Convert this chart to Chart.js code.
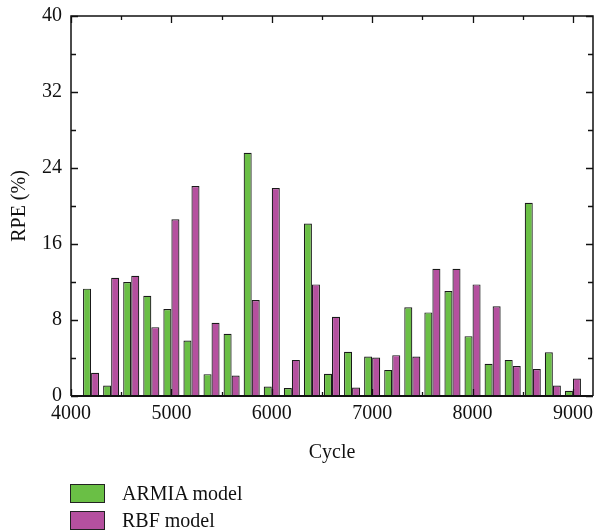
<!DOCTYPE html>
<html>
<head>
<meta charset="utf-8">
<script src="https://cdn.jsdelivr.net/npm/chart.js@4/dist/chart.umd.min.js"></script>
<style>
  html, body { margin: 0; padding: 0; background: #fff; }
  #wrap { position: relative; width: 594px; height: 531px; }
  #legend { position: absolute; left: 70px; top: 484px; font-family: "Liberation Serif", "DejaVu Serif", serif; font-size: 20px; color: #111; }
  .row { display: flex; align-items: center; height: 18px; margin-bottom: 9.5px; }
  .box { width: 33px; height: 17px; border: 1px solid #222; margin-right: 17px; }
</style>
</head>
<body>
<div id="wrap">
  <canvas id="c" width="594" height="531"></canvas>
  <div id="legend"></div>
</div>
<script>
const cycles = [4200, 4400, 4600, 4800, 5000, 5200, 5400, 5600, 5800, 6000, 6200, 6400, 6600, 6800, 7000, 7200, 7400, 7600, 7800, 8000, 8200, 8400, 8600, 8800, 9000];
const armiaRPE = [11.3, 1.1, 12.0, 10.55, 9.15, 5.85, 2.3, 6.55, 25.6, 1.0, 0.85, 18.15, 2.35, 4.65, 4.15, 2.75, 9.35, 8.8, 11.05, 6.3, 3.4, 3.8, 20.35, 4.6, 0.55];
const rbfRPE = [2.45, 12.45, 12.65, 7.25, 18.6, 22.1, 7.7, 2.15, 10.1, 21.9, 3.8, 11.75, 8.35, 0.9, 4.05, 4.3, 4.15, 13.4, 13.4, 11.75, 9.45, 3.15, 2.85, 1.1, 1.85];
const yTicks = [0, 8, 16, 24, 32, 40];
const xTicks = [4000, 5000, 6000, 7000, 8000, 9000];
const seriesNames = ['ARMIA model', 'RBF model'];
const seriesColors = ['#6abf45', '#b5509f'];

const FONT = '"Liberation Serif", "DejaVu Serif", serif';

const frameTicks = {
  id: 'frameTicks',
  afterDatasetsDraw(chart) {
    const ctx = chart.ctx;
    const a = chart.chartArea;
    const xs = chart.scales.x, ys = chart.scales.y;
    ctx.save();
    ctx.strokeStyle = '#111';
    ctx.lineWidth = 1.3;
    for (let v = 0; v <= 40; v += 4) {
      const p = Math.round(ys.getPixelForValue(v)) + 0.5;
      const len = (v % 8 === 0) ? 7 : 5;
      ctx.beginPath();
      ctx.moveTo(a.left, p); ctx.lineTo(a.left + len, p);
      ctx.moveTo(a.right, p); ctx.lineTo(a.right - len, p);
      ctx.stroke();
    }
    for (let v = 4000; v <= 9000; v += 500) {
      const p = Math.round(xs.getPixelForValue(v)) + 0.5;
      const len = (v % 1000 === 0) ? 7 : 4;
      ctx.beginPath();
      ctx.moveTo(p, a.top); ctx.lineTo(p, a.top + len);
      ctx.moveTo(p, a.bottom); ctx.lineTo(p, a.bottom - len);
      ctx.stroke();
    }
    ctx.lineWidth = 1.5;
    ctx.beginPath();
    ctx.moveTo(a.left, a.bottom); ctx.lineTo(a.left, a.top); ctx.lineTo(a.right, a.top); ctx.lineTo(a.right, a.bottom);
    ctx.stroke();
    ctx.lineWidth = 2.2;
    ctx.beginPath();
    ctx.moveTo(a.left, a.bottom); ctx.lineTo(a.right, a.bottom);
    ctx.stroke();
    ctx.restore();
  }
};

const chart = new Chart(document.getElementById('c'), {
  type: 'bar',
  data: {
    datasets: [
      { label: seriesNames[0], data: cycles.map((c, i) => ({ x: c, y: armiaRPE[i] })), backgroundColor: seriesColors[0], borderColor: '#1a1a1a', borderWidth: 1.2 },
      { label: seriesNames[1], data: cycles.map((c, i) => ({ x: c, y: rbfRPE[i] })), backgroundColor: seriesColors[1], borderColor: '#1a1a1a', borderWidth: 1.2 }
    ]
  },
  options: {
    responsive: false,
    animation: false,
    layout: { padding: { top: 16, right: 1, bottom: 66, left: 0 } },
    datasets: { bar: { categoryPercentage: 0.8, barPercentage: 1.0 } },
    plugins: { legend: { display: false }, tooltip: { enabled: false } },
    scales: {
      x: {
        type: 'linear', min: 4000, max: 9200, offset: false,
        grid: { display: false, drawTicks: false },
        border: { display: false },
        afterBuildTicks: (s) => { s.ticks = xTicks.map(v => ({ value: v })); },
        afterFit: (s) => { s.height = 69; s.paddingLeft = 0; s.paddingRight = 0; },
        ticks: { font: { family: FONT, size: 20 }, color: '#111', padding: 6, maxRotation: 0, includeBounds: false, callback: (v) => String(v) },
        title: { display: true, text: 'Cycle', font: { family: FONT, size: 20 }, color: '#111', padding: { top: 0, bottom: 0 } }
      },
      y: {
        min: 0, max: 40,
        grid: { display: false, drawTicks: false },
        border: { display: false },
        afterBuildTicks: (s) => { s.ticks = yTicks.map(v => ({ value: v })); },
        afterFit: (s) => { s.width = 71; s.paddingTop = 0; s.paddingBottom = 0; },
        ticks: { font: { family: FONT, size: 20 }, color: '#111', padding: 9, callback: (v) => String(v) },
        title: { display: true, text: 'RPE (%)', font: { family: FONT, size: 20 }, color: '#111', padding: { top: 8, bottom: 0 } }
      }
    }
  },
  plugins: [frameTicks]
});

const leg = document.getElementById('legend');
chart.data.datasets.forEach((ds) => {
  const row = document.createElement('div');
  row.className = 'row';
  const box = document.createElement('div');
  box.className = 'box';
  box.style.background = ds.backgroundColor;
  const txt = document.createElement('span');
  txt.textContent = ds.label;
  row.appendChild(box); row.appendChild(txt);
  leg.appendChild(row);
});
</script>
</body>
</html>
